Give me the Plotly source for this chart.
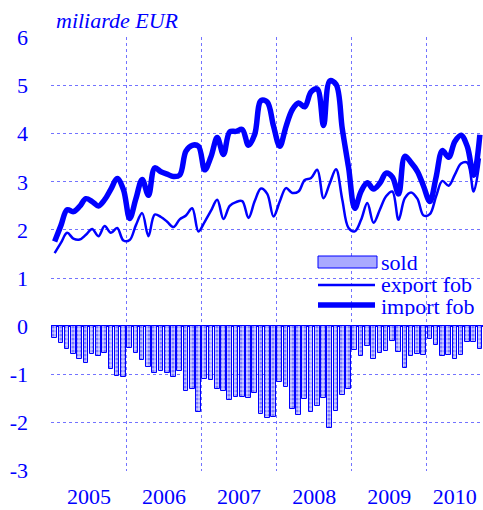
import plotly.graph_objects as go

years = ["2005", "2006", "2007", "2008", "2009", "2010"]
year_label_pos = [6, 18, 30, 42, 54, 64.5]
year_bounds = [0, 12, 24, 36, 48, 60]
y_ticks = [-3, -2, -1, 0, 1, 2, 3, 4, 5, 6]
y_ticktext = ["-3", "-2", "-1", "0", "1", "2", "3", "4", "5", "6"]
legend_names = ["sold", "export fob", "import fob"]

export_fob = [
    1.52, 1.73, 1.94, 1.82, 1.80, 1.90, 2.02, 1.87, 2.08, 1.94, 2.04, 1.78,
    1.79, 2.10, 2.35, 1.87, 2.32, 2.27, 2.17, 2.06, 2.22, 2.30, 2.45, 1.97,
    2.17, 2.40, 2.63, 2.23, 2.50, 2.58, 2.60, 2.25, 2.60, 2.86, 2.75, 2.28,
    2.59, 2.87, 2.77, 2.80, 3.04, 3.08, 3.25, 2.66, 2.97, 3.26, 2.63, 2.04,
    1.97, 2.21, 2.56, 2.15, 2.42, 2.70, 2.80, 2.21, 2.66, 2.78, 2.65, 2.30,
    2.33, 2.70, 3.02, 2.92, 3.15, 3.38, 3.40, 2.80, 3.49,
]

import_fob = [
    1.76, 2.09, 2.42, 2.38, 2.49, 2.65, 2.59, 2.50, 2.63, 2.85, 3.07, 2.84,
    2.24, 2.65, 3.05, 2.72, 3.29, 3.21, 3.16, 3.11, 3.14, 3.64, 3.76, 3.74,
    3.25, 3.52, 3.92, 3.57, 4.04, 4.05, 4.09, 3.76, 3.99, 4.69, 4.66, 4.16,
    3.74, 4.15, 4.50, 4.64, 4.56, 4.87, 4.93, 4.17, 5.10, 5.03, 4.10, 3.30,
    2.45, 2.80, 2.98, 2.85, 2.97, 3.18, 3.10, 2.75, 3.53, 3.40, 3.22, 2.91,
    2.59, 3.10, 3.65, 3.51, 3.84, 3.97, 3.73, 3.14, 3.98,
]

sold = [
    -0.24, -0.36, -0.48, -0.57, -0.69, -0.76, -0.57, -0.63, -0.55, -0.90, -1.03, -1.06,
    -0.45, -0.55, -0.70, -0.85, -0.97, -0.94, -0.97, -1.05, -0.93, -1.34, -1.30, -1.79,
    -1.10, -1.12, -1.30, -1.34, -1.54, -1.47, -1.47, -1.50, -1.39, -1.83, -1.91, -1.88,
    -1.17, -1.26, -1.72, -1.84, -1.52, -1.79, -1.67, -1.50, -2.12, -1.76, -1.43, -1.30,
    -0.50, -0.63, -0.41, -0.69, -0.55, -0.52, -0.30, -0.53, -0.88, -0.63, -0.57, -0.61,
    -0.26, -0.40, -0.62, -0.59, -0.69, -0.59, -0.33, -0.34, -0.47,
]

months = [i + 0.5 for i in range(len(sold))]
BLUE = "#0000ff"
GRID = "#7373ff"
FONT = "Liberation Serif"
FS = 22

FIG_W, FIG_H = 483, 510
# plot area in pixels
L, T, W, H = 51, 37, 432, 434

def px(xs):
    return (xs - L) / W

def py(ys):
    return (T + H - ys) / H

fig = go.Figure()
fig.add_trace(go.Bar(
    x=months, y=sold, name=legend_names[0], width=0.74, showlegend=False,
    marker=dict(
        color="#c0c0ff",
        line=dict(color=BLUE, width=1),
        pattern=dict(shape=".", fgcolor="#2a2aff", bgcolor="#d0d0ff", size=4, solidity=0.5),
    ),
))
fig.add_trace(go.Scatter(
    x=months, y=export_fob, name=legend_names[1], mode="lines", showlegend=False,
    line=dict(color=BLUE, width=2.5, shape="spline", smoothing=1.0),
))
fig.add_trace(go.Scatter(
    x=months, y=import_fob, name=legend_names[2], mode="lines", showlegend=False,
    line=dict(color=BLUE, width=5.5, shape="spline", smoothing=1.0),
))

shapes = [
    dict(type="rect", xref="paper", yref="paper", layer="below",
         x0=px(312), x1=px(483), y0=py(316), y1=py(250),
         fillcolor="white", line=dict(width=0)),
    dict(type="rect", xref="paper", yref="paper",
         x0=px(318), x1=px(377), y0=py(268), y1=py(256),
         fillcolor="#a9a9ff", line=dict(color=BLUE, width=1)),
    dict(type="line", xref="paper", yref="paper",
         x0=px(318), x1=px(375), y0=py(285), y1=py(285),
         line=dict(color=BLUE, width=2.5)),
    dict(type="line", xref="paper", yref="paper",
         x0=px(318), x1=px(375), y0=py(305), y1=py(305),
         line=dict(color=BLUE, width=5.5)),
]
annotations = [
    dict(text="<i>miliarde EUR</i>", xref="paper", yref="paper",
         x=px(54), y=py(21), xanchor="left", yanchor="middle",
         showarrow=False, font=dict(family=FONT, size=FS, color=BLUE)),
]
for name, yy in zip(legend_names, [262, 284, 306]):
    annotations.append(dict(
        text=name, xref="paper", yref="paper", x=px(379), y=py(yy),
        xanchor="left", yanchor="middle", showarrow=False, height=20,
        font=dict(family=FONT, size=FS, color=BLUE)))

fig.update_layout(
    width=FIG_W, height=FIG_H,
    margin=dict(l=L, r=FIG_W - L - W, t=T, b=FIG_H - T - H),
    paper_bgcolor="white", plot_bgcolor="white",
    font=dict(family=FONT, color=BLUE, size=FS),
    showlegend=False,
    bargap=0,
    shapes=shapes,
    annotations=annotations,
)
fig.update_xaxes(
    range=[-0.08, 69], tickmode="array", tickvals=year_label_pos, ticktext=years,
    showgrid=False, zeroline=False, showline=False, ticks="", automargin=False,
    ticklabelstandoff=10,
    minor=dict(tickmode="array", tickvals=year_bounds, showgrid=True,
               gridcolor=GRID, griddash="dot", gridwidth=1, ticks=""),
    tickfont=dict(family=FONT, size=FS, color=BLUE),
)
fig.update_yaxes(
    range=[-3.012, 6.012], tickmode="array", tickvals=y_ticks, ticktext=y_ticktext,
    showgrid=True, gridcolor=GRID, griddash="dot", gridwidth=1,
    zeroline=True, zerolinecolor=BLUE, zerolinewidth=1.5, automargin=False,
    showline=False, ticks="", ticklabelstandoff=22,
    tickfont=dict(family=FONT, size=FS, color=BLUE),
)

fig.write_html(
    "out.html",
    config={"displayModeBar": False},
    post_script="document.body.style.margin='0';document.body.style.overflow='hidden';",
)
